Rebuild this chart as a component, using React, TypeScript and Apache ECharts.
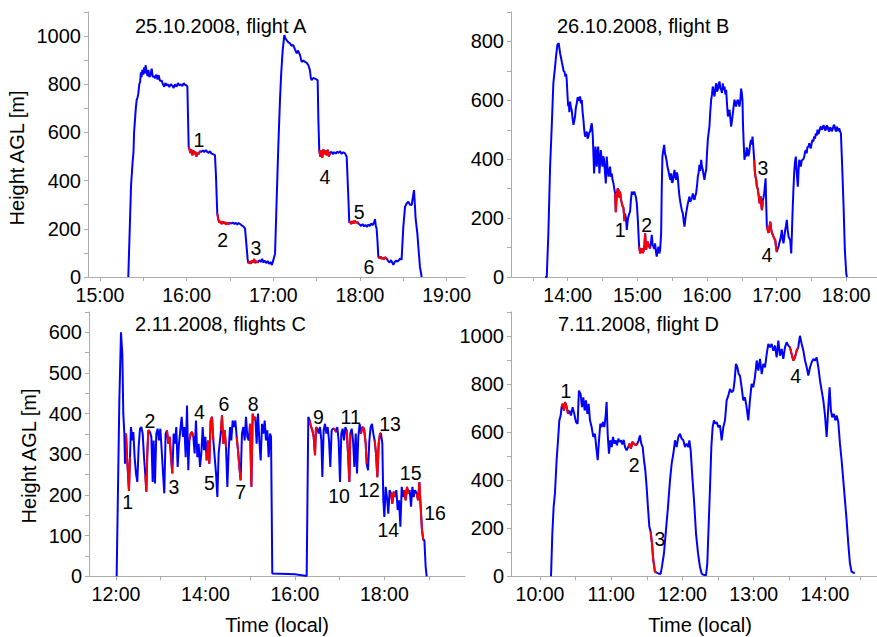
import React, { useEffect, useRef } from 'react';
import * as echarts from 'echarts';

// time in minutes after midnight (local), height AGL in metres
const flightA: [number, number][] = [
[919.6,0],[920.5,180],[921.5,380],[922.5,470],[923.2,520],[923.6,600],[924.2,650],[924.8,700],[925.4,735],[926.0,745],[926.5,760],[927.2,800],[927.8,810],[928.3,850],[928.8,830],[929.3,860],[930.0,840],[930.6,870],[931.2,845],[931.6,880],[932.2,850],[933.0,835],[933.5,860],[934.2,830],[935.0,840],[935.8,865],[936.5,830],[937.3,835],[938.1,825],[939.0,840],[939.8,820],[940.6,838],[941.5,815],[942.7,815],[943.6,800],[944.5,790],[945.3,805],[946.2,795],[947.2,800],[948.0,788],[949.0,800],[950.0,795],[951.0,785],[951.9,800],[953.0,790],[954.0,805],[955.0,795],[956.0,800],[957.0,792],[958.0,805],[958.8,798],[960.0,795],[960.5,790],[961.0,650],[961.4,540],
[961.8,535],[962.5,515],[963.2,530],[963.9,505],[964.6,525],[965.3,510],[966.0,520],[966.8,500],[967.5,515],[968.3,510],[969.2,522],
[970.2,520],[971.2,525],[972.2,518],[973.2,527],[974.2,520],[975.2,515],[976.2,522],[977.2,512],[978.2,510],[979.6,506],[980.3,420],[980.8,330],[981.2,264],
[981.9,240],[982.6,225],[983.4,232],[984.2,220],[985.0,230],[985.8,222],[986.6,228],[987.4,218],[988.2,226],[989.1,220],[990.0,225],
[991.0,222],[992.0,226],[993.0,220],[994.0,225],[995.0,218],[996.0,224],[997.0,220],[998.0,215],[999.2,210],[1000.4,202],[1001.0,160],[1001.5,126],[1002.2,75],
[1002.7,57],[1003.5,65],[1004.3,55],[1005.1,68],[1005.9,60],[1006.7,75],[1007.5,58],[1008.3,66],[1009.0,60],[1009.6,64],
[1010.5,70],[1011.4,62],[1012.3,75],[1013.2,60],[1014.1,68],[1015.0,58],[1016.0,66],[1017.0,55],[1018.0,62],[1019.0,50],[1020.0,70],[1021.2,98],[1022.3,320],[1023.5,550],[1024.6,734],[1025.5,850],[1026.5,942],[1027.6,1004],[1028.4,990],[1029.2,983],[1030.3,975],[1031.5,970],[1032.6,960],[1033.8,963],[1035.0,945],[1036.2,928],[1037.0,940],[1038.5,921],[1039.6,893],[1040.8,898],[1041.9,893],[1043.0,890],[1044.2,880],[1045.3,860],[1046.0,825],[1046.5,817],[1047.6,826],[1048.8,824],[1049.8,820],[1050.7,817],[1051.2,650],[1051.8,527],
[1052.5,500],[1053.2,525],[1053.9,495],[1054.6,530],[1055.4,510],[1056.2,525],[1057.0,505],[1057.8,528],[1058.5,500],[1059.2,515],
[1060.2,520],[1061.2,510],[1062.2,518],[1063.2,512],[1064.2,520],[1065.2,515],[1066.2,522],[1067.2,512],[1068.4,518],[1069.6,513],[1070.8,499],[1071.8,350],[1072.6,225],
[1073.3,230],[1074.0,220],[1074.8,232],[1075.6,222],[1076.4,235],[1077.2,225],[1078.0,230],[1078.8,222],
[1079.8,218],[1080.8,212],[1081.8,220],[1082.8,210],[1083.8,216],[1084.8,208],[1085.8,218],[1086.8,212],[1087.8,222],[1088.8,215],[1089.7,225],[1090.4,240],[1091.0,210],[1091.5,202],[1092.1,150],[1092.7,84],
[1093.4,78],[1094.2,85],[1095.0,75],[1095.8,80],[1096.6,74],[1097.4,82],[1098.5,76],
[1099.5,66],[1100.5,60],[1101.5,70],[1102.5,58],[1103.1,50],[1104.0,62],[1105.0,68],[1106.0,64],[1107.0,70],[1107.7,77],[1108.8,72],[1110.0,209],[1111.2,292],[1112.3,305],[1113.5,313],[1114.6,300],[1115.8,299],[1116.6,330],[1117.4,361],[1118.0,300],[1118.5,243],[1119.7,181],[1120.6,110],[1121.5,43],[1122.7,0]
];
const redRangesA: [number, number][] = [[961.4,969.2],[981.2,990.0],[1002.7,1009.6],[1051.8,1059.2],[1072.6,1078.8],[1092.7,1098.5]];
const labelsA: [number, number, string][] = [[968.5,568,'1'],[984.9,153,'2'],[1008.0,119,'3'],[1055.8,416,'4'],[1079.5,271,'5'],[1086.2,43,'6']];

const flightB: [number, number][] = [
[820.5,0],[821.9,0],[823.3,148],[824.8,375],[826.2,511],[827.6,658],[829.1,715],[829.9,749],[831.1,789],[832.2,794],[833.4,760],[834.3,743],[835.0,728],[835.7,715],[836.4,700],[837.1,698],[838.0,681],[838.6,690],[839.1,670],[840.0,602],[840.4,580],[840.9,590],[841.4,560],[842.0,596],[842.7,575],[843.4,568],[844.1,540],[844.9,517],[845.6,530],[846.3,545],[847.0,575],[847.8,590],[848.5,610],[849.2,607],[849.9,598],[850.6,613],[851.4,590],[852.1,602],[852.8,560],[853.5,534],[854.2,500],[854.9,477],[855.6,485],[856.4,494],[857.1,470],[857.8,477],[858.5,490],[859.3,494],[860.0,510],[860.7,522],[861.2,500],[861.6,477],[862.2,410],[862.7,352],[863.3,400],[863.9,443],[864.4,410],[865.0,375],[865.6,420],[866.2,443],[866.8,400],[867.3,352],[867.9,390],[868.5,431],[869.2,400],[869.9,375],[870.6,410],[871.3,398],[872.0,360],[872.8,318],[873.2,370],[873.6,409],[874.3,370],[875.1,341],[875.8,360],[876.5,375],[877.2,340],[877.9,352],[878.6,330],[879.4,318],[880.1,300],
[880.8,284],[881.4,220],[882.2,275],[883.0,300],[883.7,296],[884.4,270],[885.1,290],[885.8,265],[886.6,250],[887.3,240],[888.0,235],[888.9,190],
[889.4,216],[890.2,200],[890.9,160],[891.6,190],[892.3,205],[893.0,215],[893.7,222],[894.4,260],[895.2,290],[895.9,280],[896.6,284],[897.3,290],[898.1,280],[898.8,270],[899.5,250],[900.4,194],
[901.5,103],[902.4,80],[903.1,90],[903.8,97],[904.5,82],[905.2,86],[906.1,109],[906.7,148],[907.5,92],[908.2,110],[909.0,120],[910.0,105],[911.0,97],
[911.7,115],[912.4,143],[913.1,110],[913.8,103],[914.5,95],[915.3,114],[916.0,85],[916.7,69],[917.4,90],[918.2,103],[918.9,80],[919.6,92],[920.5,148],[921.0,300],[921.6,409],[922.3,430],[923.1,449],[923.8,420],[924.5,409],[925.2,395],[925.9,375],[926.8,360],[927.7,341],[928.4,330],[929.1,352],[929.8,320],[930.5,324],[931.2,345],[932.0,364],[932.7,340],[933.4,330],[934.1,355],[934.8,341],[935.6,300],[936.3,273],[937.0,255],[937.7,239],[938.4,225],[939.2,216],[939.9,190],[940.6,171],[941.3,195],[942.0,216],[942.8,235],[943.5,250],[944.2,262],[944.9,273],[945.6,255],[946.3,262],[947.1,270],[947.8,284],[948.5,270],[949.2,262],[949.9,275],[950.6,284],[951.4,310],[952.1,341],[952.8,355],[953.5,381],[954.2,360],[955.0,398],[955.7,375],[956.4,364],[957.1,345],[957.8,330],[958.5,350],[959.3,364],[960.0,420],[960.7,466],[961.4,490],[962.1,511],[962.8,560],[963.6,602],[964.3,620],[965.0,647],[965.8,625],[966.5,613],[967.2,640],[967.9,658],[968.6,630],[969.3,636],[970.0,655],[970.8,664],[971.5,640],[972.2,636],[972.9,625],[973.6,658],[974.3,635],[975.1,647],[975.8,620],[976.5,636],[977.2,590],[978.0,545],[978.7,560],[979.4,568],[980.1,540],[980.8,511],[981.5,530],[982.3,556],[983.0,580],[983.7,602],[984.4,590],[985.1,579],[985.8,595],[986.6,602],[987.3,590],[988.0,579],[988.7,600],[989.4,640],[990.0,625],[990.6,600],[991.0,520],[991.5,466],[992.3,398],[993.0,420],[993.5,409],[994.2,440],[994.9,431],[995.6,410],[996.3,420],[997.0,445],[997.8,466],[998.5,450],[999.2,477],[999.6,460],[1000.1,431],
[1000.7,398],[1001.2,360],[1001.8,340],[1002.4,330],[1003.0,307],[1003.7,300],[1004.4,280],[1004.9,265],[1005.3,250],[1005.8,265],[1006.4,273],[1006.8,245],[1007.3,227],[1007.7,240],[1008.1,260],
[1008.7,270],[1009.3,284],[1009.9,310],[1010.5,335],[1011.0,250],
[1011.6,171],[1012.3,160],[1013.1,150],[1013.8,170],[1014.5,188],[1015.2,165],[1016.0,148],[1016.6,145],[1017.3,137],[1018.0,130],[1018.8,126],[1019.5,100],[1020.2,85],
[1020.9,95],[1021.6,103],[1022.3,115],[1023.1,126],[1023.8,140],[1024.5,160],[1025.2,130],[1025.9,114],[1026.6,135],[1027.4,160],[1028.1,175],[1028.8,194],[1029.5,160],[1030.3,137],[1031.0,130],[1031.7,126],[1032.6,80],[1033.7,216],[1034.4,290],[1035.1,352],[1035.8,390],[1036.6,409],[1037.0,380],[1037.4,352],[1037.8,330],[1038.3,307],[1038.9,360],[1039.5,398],[1040.2,390],[1040.9,375],[1041.6,395],[1042.3,398],[1043.0,400],[1043.8,409],[1044.5,425],[1045.2,431],[1045.9,420],[1046.6,443],[1047.3,440],[1048.1,454],[1048.8,445],[1049.5,437],[1050.2,455],[1050.9,466],[1051.6,460],[1052.4,477],[1053.1,470],[1053.8,488],[1054.5,480],[1055.3,500],[1056.0,485],[1056.7,494],[1057.4,505],[1058.1,511],[1058.8,500],[1059.6,505],[1060.3,515],[1061.0,511],[1061.7,498],[1062.4,500],[1063.1,515],[1063.9,511],[1064.6,500],[1065.3,494],[1066.0,508],[1066.8,505],[1067.5,495],[1068.2,500],[1068.9,512],[1069.6,517],[1070.3,505],[1071.1,494],[1071.8,510],[1072.5,505],[1073.2,495],[1073.9,505],[1074.6,495],[1075.4,488],[1076.5,375],[1077.7,239],[1078.8,92],[1080.0,12],[1080.6,0]
];
const redRangesB: [number, number][] = [[880.8,888.9],[901.5,911.0],[1000.7,1008.1],[1011.6,1020.2]];
const labelsB: [number, number, string][] = [[885.1,160,'1'],[908.1,177,'2'],[1008.1,369,'3'],[1011.6,75,'4']];

const flightC: [number, number][] = [
[720.9,0],[724.5,432],[726.7,600],[728.5,547],[729.8,400],[731.2,351],[732.1,277],[733.4,351],[734.8,293],[736.1,253],[737.4,210],[738.8,293],[740.1,367],[741.9,334],[743.3,355],[745.0,293],[746.8,253],[748.6,232],[750.4,318],[752.2,363],[754.0,367],[755.8,351],[757.6,293],[759.4,248],[760.7,208],[762.0,302],[763.4,359],[765.6,355],[767.4,343],[769.2,232],[770.5,334],[772.3,228],[774.1,351],[775.9,363],[777.7,334],[779.5,363],[781.3,310],[783.1,253],[784.8,204],[786.6,351],[788.4,359],[790.2,326],[792.0,343],[793.8,293],[795.6,253],[797.4,351],[799.2,326],[800.9,367],[802.7,269],[804.5,326],[806.3,359],[808.1,392],[809.9,343],[811.7,367],[813.5,293],[815.3,420],[817.0,261],[818.4,334],[820.2,351],[822.0,355],[823.8,343],[825.5,302],[827.3,383],[829.1,293],[830.9,326],[832.7,269],[834.5,302],[836.3,367],[838.1,310],[839.9,343],[841.6,285],[843.4,334],[845.2,277],[847.0,383],[848.8,392],[850.6,334],[852.4,293],[854.2,253],[856.0,195],[857.7,302],[859.5,334],[860.9,359],[862.2,396],[864.0,326],[865.8,359],[867.6,318],[869.4,220],[871.2,310],[873.0,367],[874.7,334],[876.5,383],[878.3,367],[880.1,383],[881.9,343],[883.7,310],[885.5,269],[887.2,236],[889.0,351],[890.8,367],[892.6,334],[894.4,392],[896.2,343],[898.0,334],[899.8,375],[901.6,220],[903.4,400],[905.2,383],[906.9,392],[908.7,326],[910.5,400],[912.3,334],[914.1,285],[915.9,375],[917.7,351],[919.5,383],[921.2,334],[923.0,359],[924.8,293],[926.6,351],[928.0,343],[929.7,7],[960.1,5],[975.8,1],
[978.0,392],[979.8,383],[981.2,371],[983.4,359],[985.2,343],[987.0,298],[988.3,367],[990.1,363],[991.9,351],[993.7,367],[995.5,334],[996.8,244],[998.6,359],[1000.4,375],[1002.2,351],[1004.0,367],[1005.8,334],[1007.5,269],[1009.3,359],[1011.1,363],[1012.9,363],[1015.2,355],[1016.9,367],[1018.7,334],[1020.5,232],[1022.3,351],[1024.1,363],[1025.9,334],[1027.7,367],[1029.5,359],[1031.3,302],[1033.1,232],[1034.4,351],[1036.2,363],[1038.0,334],[1039.8,269],[1041.6,351],[1043.3,253],[1045.1,343],[1046.9,375],[1048.7,351],[1050.5,367],[1052.8,363],[1055.0,326],[1056.3,277],[1058.1,261],[1059.9,334],[1061.6,367],[1063.4,375],[1065.2,351],[1067.0,334],[1068.8,302],[1070.6,244],[1072.4,326],[1074.2,351],[1075.5,351],[1077.3,326],[1078.6,187],[1080.0,146],[1081.8,220],[1083.5,195],[1085.3,154],[1087.1,212],[1088.9,204],[1090.7,179],[1092.5,208],[1094.3,195],[1096.1,212],[1097.9,163],[1099.7,187],[1101.5,122],[1103.3,220],[1105.1,195],[1106.8,212],[1108.6,187],[1110.4,220],[1112.2,204],[1114.0,212],[1115.8,171],[1117.6,220],[1119.3,195],[1121.1,212],[1123.4,204],[1125.2,187],[1127.0,232],[1128.7,171],[1130.5,114],[1132.3,89],[1133.7,89],[1135.4,24],[1136.8,0]
];
const redRangesC: [number, number][] = [[733.4,738.8],[759.4,765.6],[788.4,795.6],[818.4,823.8],[841.6,850.6],[860.9,867.6],[881.9,887.2],[899.8,906.9],[979.8,988.3],[1011.1,1015.2],[1029.5,1034.4],[1048.7,1056.3],[1067.0,1075.5],[1088.9,1094.3],[1106.8,1112.2],[1123.4,1132.3]];
const labelsC: [number, number, string][] = [[735.7,183,'1'],[765.6,383,'2'],[797.8,220,'3'],[831.8,404,'4'],[845.2,230,'5'],[864.9,424,'6'],[887.3,208,'7'],[904.2,424,'8'],[991.5,393,'9'],[1019.2,197,'10'],[1034.8,393,'11'],[1059.4,212,'12'],[1087.6,375,'13'],[1085.4,114,'14'],[1115.3,253,'15'],[1148.0,156,'16']];

const flightD: [number, number][] = [
[609.3,0],[610.4,178],[611.5,289],[612.6,344],[614.0,483],[615.2,566],[616.3,649],[617.4,669],[618.2,704],[619.1,718],[620.2,690],[621.1,725],[622.5,704],[623.6,676],[624.7,690],[626.1,669],[627.5,704],[628.9,676],[630.3,642],[631.7,635],[632.8,773],[634.2,759],[635.4,704],[636.5,745],[637.6,690],[638.7,732],[639.9,676],[641.0,718],[642.1,649],[643.5,621],[644.9,580],[646.3,593],[647.4,538],[648.6,483],[649.7,566],[650.8,635],[651.9,621],[653.1,642],[654.2,621],[655.3,669],[656.1,725],[657.0,593],[658.1,510],[659.2,566],[660.4,538],[661.5,580],[662.6,552],[663.7,566],[664.8,545],[666.0,573],[667.1,559],[668.2,566],[669.3,549],[670.5,568],[671.6,538],[673.0,524],[674.4,538],[675.5,552],[676.6,531],[677.8,559],[679.2,552],[680.8,545],[682.0,552],[683.1,566],[684.2,586],[685.3,552],[686.5,538],[687.6,483],[688.7,441],[689.8,372],[690.9,289],[692.1,206],[693.2,185],[694.3,137],[695.4,68],[696.8,19],[698.2,15],[699.6,12],[701.6,10],[702.7,40],[704.4,95],[706.1,192],[707.8,289],[709.5,400],[710.9,469],[712.3,510],[713.7,566],[715.1,538],[716.5,580],[717.9,593],[719.3,573],[720.7,566],[722.1,538],[723.5,552],[724.9,538],[725.8,566],[726.9,524],[728.3,414],[729.7,317],[731.4,178],[733.1,95],[734.7,40],[736.1,12],[737.5,6],[739.8,4],[740.9,54],[742.0,206],[743.2,372],[744.3,538],[745.4,621],[746.5,649],[747.6,635],[748.8,642],[750.2,621],[751.6,628],[753.0,566],[754.4,621],[755.8,649],[757.2,732],[758.6,752],[760.0,780],[761.4,766],[762.8,773],[763.9,815],[765.0,884],[766.2,870],[767.3,842],[768.4,835],[769.8,787],[771.2,732],[772.6,745],[774.0,704],[775.4,649],[776.8,732],[778.2,801],[779.6,787],[781.0,828],[782.5,898],[783.9,856],[785.3,905],[786.7,842],[788.1,884],[789.5,870],[790.9,925],[792.3,967],[793.7,953],[795.1,967],[796.5,939],[797.9,960],[799.3,911],[800.7,981],[802.1,918],[803.5,946],[804.9,905],[806.3,953],[807.7,974],[809.1,960],[810.5,953],[811.9,925],[813.3,898],[814.7,911],[816.1,939],[817.5,953],[818.9,1001],[820.4,967],[821.8,939],[823.2,898],[824.6,870],[826.0,835],[827.4,870],[828.8,891],[830.2,905],[831.6,898],[833.0,911],[834.4,870],[835.8,815],[837.2,773],[838.6,732],[839.9,676],[841.4,580],[842.8,704],[843.9,787],[845.0,690],[846.1,662],[847.5,676],[848.7,649],[849.8,669],[851.2,642],[852.6,552],[854.0,483],[855.4,400],[856.8,317],[858.2,234],[859.6,137],[861.0,54],[862.4,19],[863.8,15],[865.2,15]
];
const redRangesD: [number, number][] = [[618.2,623.6],[674.4,682.0],[693.2,698.2],[810.5,817.5]];
const labelsD: [number, number, string][] = [[621.9,770,'1'],[679.4,462,'2'],[701.1,154,'3'],[815.3,835,'4']];

// axis ticks and labels
const xTicksA = [900,930,960,990,1020,1050,1080,1110,1140];
const xLabelsA = [900,960,1020,1080,1140];
const xTicksB = [810,840,870,900,930,960,990,1020,1050,1080];
const xLabelsB = [840,900,960,1020,1080];
const xTicksC = [720,780,840,900,960,1020,1080,1140];
const xLabelsC = [720,840,960,1080];
const xTicksD = [600,630,660,690,720,750,780,810,840,870];
const xLabelsD = [600,660,720,780,840];
const yTicksA = [0,100,200,300,400,500,600,700,800,900,1000,1100];
const yLabelsA = [0,200,400,600,800,1000];
const yTicksB = [0,100,200,300,400,500,600,700,800,900];
const yLabelsB = [0,200,400,600,800];
const yTicksC = [0,50,100,150,200,250,300,350,400,450,500,550,600,650];
const yLabelsC = [0,100,200,300,400,500,600];
const yTicksD = yTicksA;
const yLabelsD = yLabelsA;

const titles = ['25.10.2008, flight A', '26.10.2008, flight B', '2.11.2008, flights C', '7.11.2008, flight D'];

const FONT = '"Liberation Sans", Arial, sans-serif';
const AXIS_COLOR = '#ababab';

function fmtTime(v: number) {
  const h = Math.floor(v / 60 + 1e-6);
  const m = Math.round(v - h * 60);
  return `${h}:${String(m).padStart(2, '0')}`;
}

const panels = [
  { data: flightA, red: redRangesA, labels: labelsA, xMin: 891.7, xMax: 1152.7, xTicks: xTicksA, xLabels: xLabelsA, yMax: 1100, yTicks: yTicksA, yLabels: yLabelsA, grid: { left: 88, top: 12, width: 377, height: 265 } },
  { data: flightB, red: redRangesB, labels: labelsB, xMin: 791.1, xMax: 1106.5, xTicks: xTicksB, xLabels: xLabelsB, yMax: 900, yTicks: yTicksB, yLabels: yLabelsB, grid: { left: 511, top: 12, width: 366, height: 265 } },
  { data: flightC, red: redRangesC, labels: labelsC, xMin: 683.8, xMax: 1188.2, xTicks: xTicksC, xLabels: xLabelsC, yMax: 650, yTicks: yTicksC, yLabels: yLabelsC, grid: { left: 89, top: 312, width: 376, height: 264.3 } },
  { data: flightD, red: redRangesD, labels: labelsD, xMin: 575.6, xMax: 883.8, xTicks: xTicksD, xLabels: xLabelsD, yMax: 1100, yTicks: yTicksD, yLabels: yLabelsD, grid: { left: 511, top: 312, width: 366, height: 264.3 } },
];

export default function App() {
  const ref = useRef<HTMLDivElement>(null);
  useEffect(() => {
    if (!ref.current) return;
    const chart = echarts.init(ref.current, null, { renderer: 'svg' });
    const grid: any[] = [];
    const xAxis: any[] = [];
    const yAxis: any[] = [];
    const series: any[] = [];
    panels.forEach((p, i) => {
      grid.push({ ...p.grid, containLabel: false });
      xAxis.push({
        type: 'value', gridIndex: i, min: p.xMin, max: p.xMax,
        axisLine: { show: true, onZero: false, lineStyle: { color: AXIS_COLOR, width: 1 } },
        axisTick: { show: true, inside: false, length: 4, customValues: p.xTicks, lineStyle: { color: AXIS_COLOR } },
        axisLabel: { show: true, customValues: p.xLabels, formatter: (v: number) => fmtTime(v), color: '#000', fontFamily: FONT, fontSize: 19.5, lineHeight: 15, margin: 10 },
        splitLine: { show: false },
      });
      yAxis.push({
        type: 'value', gridIndex: i, min: 0, max: p.yMax,
        axisLine: { show: true, onZero: false, lineStyle: { color: AXIS_COLOR, width: 1 } },
        axisTick: { show: true, inside: false, length: 4, customValues: p.yTicks, lineStyle: { color: AXIS_COLOR } },
        axisLabel: { show: true, customValues: p.yLabels, formatter: (v: number) => String(v), color: '#000', fontFamily: FONT, fontSize: 20, lineHeight: 15, margin: 7 },
        splitLine: { show: false },
      });
      series.push({
        type: 'line', xAxisIndex: i, yAxisIndex: i, data: p.data, showSymbol: false, symbol: 'none',
        lineStyle: { color: '#0000ff', width: 2 }, z: 2, clip: true,
      });
      p.red.forEach(([a, b]) => {
        series.push({
          type: 'line', xAxisIndex: i, yAxisIndex: i,
          data: p.data.filter(([t]) => t >= a && t <= b),
          showSymbol: false, symbol: 'none', lineStyle: { color: '#ff0000', width: 2 }, z: 3, clip: true,
        });
      });
      series.push({
        type: 'scatter', xAxisIndex: i, yAxisIndex: i, data: p.labels, symbolSize: 1,
        itemStyle: { color: 'rgba(255,255,255,0)' }, z: 4,
        label: { show: true, position: 'inside', formatter: (d: any) => d.value[2], color: '#000000', opacity: 1, textBorderWidth: 0, fontFamily: FONT, fontSize: 19.5 },
      });
    });
    const textStyle = (text: string, align: string) => ({ text, fill: '#000', font: `20px ${FONT}`, textAlign: align, textVerticalAlign: 'middle' });
    chart.setOption({
      animation: false,
      backgroundColor: '#ffffff',
      grid, xAxis, yAxis, series,
      graphic: [
        { type: 'text', x: 135, y: 26, style: textStyle(titles[0], 'left') },
        { type: 'text', x: 557, y: 26, style: textStyle(titles[1], 'left') },
        { type: 'text', x: 135, y: 324, style: textStyle(titles[2], 'left') },
        { type: 'text', x: 558, y: 324, style: textStyle(titles[3], 'left') },
        { type: 'text', x: 17, y: 158, rotation: Math.PI / 2, style: textStyle('Height AGL [m]', 'center') },
        { type: 'text', x: 29, y: 456, rotation: Math.PI / 2, style: textStyle('Height AGL [m]', 'center') },
        { type: 'text', x: 277, y: 625, style: textStyle('Time (local)', 'center') },
        { type: 'text', x: 700, y: 625, style: textStyle('Time (local)', 'center') },
      ],
    });
    return () => chart.dispose();
  }, []);
  return <div ref={ref} style={{ position: 'absolute', left: 0, top: 0, width: 877, height: 637 }} />;
}
